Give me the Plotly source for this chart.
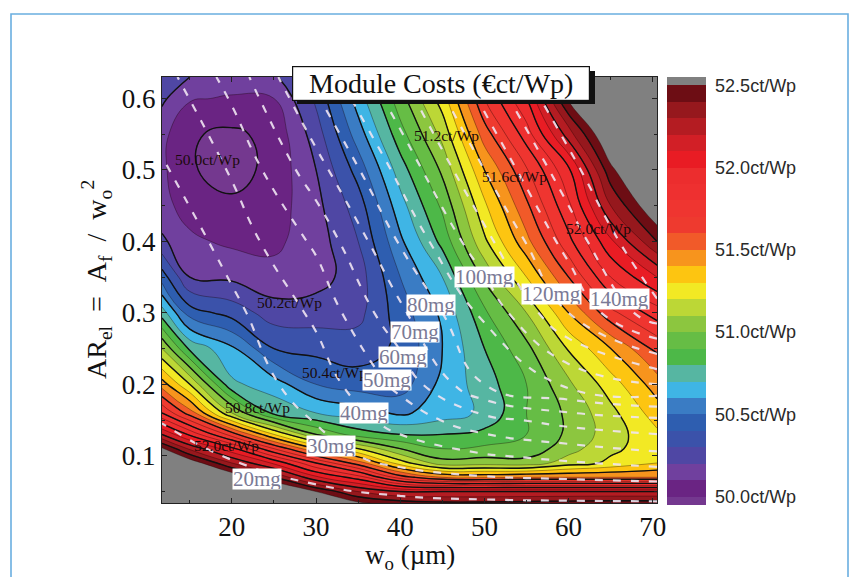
import plotly.graph_objects as go

# ---------------- data ----------------
# finger width w_o (um) and aspect ratio AR_el grid
w_um = [11.7, 15, 20, 25, 30, 35, 40, 45, 50, 55, 60, 65, 70.5]
ar_el = [0.034, 0.05, 0.07, 0.09, 0.11, 0.13, 0.16, 0.2, 0.25, 0.3, 0.35,
         0.4, 0.45, 0.5, 0.55, 0.6, 0.63]

# module cost (ct/Wp); one list per w_o column, bottom (low AR) to top
cost_w11_7 = [53.6, 53.3, 53.0, 52.75, 52.52, 52.2, 51.8, 51.45, 51.1, 50.75, 50.45, 50.22, 50.13, 50.12, 50.13, 50.22, 50.3]
cost_w15 = [53.3, 53.0, 52.8, 52.58, 52.28, 51.98, 51.55, 51.2, 50.78, 50.45, 50.2, 50.12, 50.06, 50.01, 50.01, 50.11, 50.2]
cost_w20 = [53.1, 52.9, 52.6, 52.3, 52.03, 51.65, 51.1, 50.72, 50.62, 50.36, 50.18, 50.08, 50.02, 49.96, 49.98, 50.09, 50.15]
cost_w25 = [52.95, 52.7, 52.4, 52.08, 51.7, 51.3, 50.77, 50.65, 50.4, 50.25, 50.13, 50.08, 50.05, 50.03, 50.03, 50.1, 50.18]
cost_w30 = [52.72, 52.5, 52.12, 51.8, 51.4, 51.0, 50.7, 50.5, 50.37, 50.25, 50.16, 50.15, 50.17, 50.2, 50.25, 50.32, 50.38]
cost_w35 = [52.52, 52.3, 51.95, 51.55, 51.2, 50.85, 50.65, 50.45, 50.35, 50.27, 50.25, 50.3, 50.35, 50.44, 50.55, 50.65, 50.72]
cost_w40 = [52.45, 52.2, 51.65, 51.25, 51.0, 50.8, 50.58, 50.45, 50.42, 50.45, 50.5, 50.58, 50.66, 50.75, 50.86, 50.96, 51.04]
cost_w45 = [52.42, 52.2, 51.5, 51.04, 50.9, 50.8, 50.65, 50.63, 50.6, 50.62, 50.7, 50.83, 50.92, 51.02, 51.13, 51.25, 51.33]
cost_w50 = [52.42, 52.2, 51.48, 51.05, 50.92, 50.83, 50.72, 50.75, 50.8, 50.88, 51.02, 51.18, 51.28, 51.4, 51.55, 51.7, 51.77]
cost_w55 = [52.43, 52.2, 51.5, 51.04, 50.93, 50.9, 50.9, 50.9, 50.97, 51.1, 51.3, 51.47, 51.58, 51.69, 51.85, 52.0, 52.1]
cost_w60 = [52.44, 52.2, 51.5, 51.15, 51.06, 51.02, 51.02, 51.08, 51.21, 51.4, 51.6, 51.77, 51.88, 51.98, 52.25, 52.52, 52.62]
cost_w65 = [52.45, 52.2, 51.5, 51.22, 51.18, 51.15, 51.17, 51.25, 51.4, 51.67, 51.9, 52.08, 52.3, 52.47, 52.65, 52.82, 52.95]
cost_w70_5 = [52.45, 52.2, 51.5, 51.3, 51.25, 51.28, 51.35, 51.45, 51.62, 51.85, 52.1, 52.4, 52.62, 52.78, 52.95, 53.1, 53.25]

cost_columns = [cost_w11_7, cost_w15, cost_w20, cost_w25, cost_w30, cost_w35, cost_w40,
                cost_w45, cost_w50, cost_w55, cost_w60, cost_w65, cost_w70_5]
cost_z = [[col[j] for col in cost_columns] for j in range(len(ar_el))]

# silver consumption (mg) on a coarser grid, one list per AR row
w_mg = [11.7, 20, 30, 40, 50, 60, 70.5]
ar_mg = [0.034, 0.06, 0.1, 0.15, 0.2, 0.3, 0.4, 0.5, 0.63]
mg_ar0034 = [10, 13, 15.5, 17.5, 18.5, 19, 19.2]
mg_ar006 = [13, 17, 20, 24, 26.3, 27, 28]
mg_ar010 = [17, 20.5, 26, 34, 39, 43, 47.5]
mg_ar015 = [20.3, 22.5, 30.5, 44, 56.7, 64, 68]
mg_ar020 = [21.6, 24.4, 34.4, 52.7, 80, 92, 100]
mg_ar030 = [24, 27.5, 42, 68, 92, 120, 147]
mg_ar040 = [22, 34, 52, 81, 107, 134, 162]
mg_ar050 = [29, 41, 66, 93, 120, 146, 175]
mg_ar063 = [36, 54, 83, 109, 136, 163, 191]
mg_z = [mg_ar0034, mg_ar006, mg_ar010, mg_ar015, mg_ar020, mg_ar030, mg_ar040, mg_ar050, mg_ar063]

# colour of each cost band: <50.0, 50.0-50.1, ..., 52.4-52.5, >52.5
band_colors = ['#74388f', '#6a2483', '#70409e', '#4f47a4', '#3b52aa', '#2e5eb0',
               '#3a7cc4', '#3fb5e5', '#56b6a2', '#4db848', '#66bd45', '#8cc63f',
               '#bcd736', '#f2e924', '#fdc511', '#f7941d', '#f15a29', '#ee3a2f',
               '#ef3530', '#ee3030', '#ec2d2e', '#e91c24', '#d21f26', '#b41c22',
               '#96181d', '#6d0d14', '#808080']

cbar_ticks = [50.0, 50.5, 51.0, 51.5, 52.0, 52.5]
cbar_text = ['50.0ct/Wp', '50.5ct/Wp', '51.0ct/Wp', '51.5ct/Wp', '52.0ct/Wp', '52.5ct/Wp']

cost_label_text = ['50.0ct/Wp', '50.2ct/Wp', '50.4ct/Wp', '50.8ct/Wp', '52.0ct/Wp',
                   '51.2ct/Wp', '51.6ct/Wp', '52.0ct/Wp']
cost_label_w = [17.1, 26.9, 32.2, 23.0, 19.4, 45.5, 53.6, 63.5]
cost_label_ar = [0.515, 0.315, 0.217, 0.167, 0.115, 0.548, 0.491, 0.418]

mg_label_text = ['20mg', '30mg', '40mg', '50mg', '60mg', '70mg', '80mg',
                 '100mg', '120mg', '140mg']
mg_label_w = [23.0, 31.8, 35.7, 38.4, 40.3, 41.7, 43.7, 50.0, 58.0, 66.0]
mg_label_ar = [0.068, 0.114, 0.16, 0.206, 0.238, 0.273, 0.311, 0.35, 0.326, 0.319]

# ---------------- figure ----------------
SERIF = 'Liberation Serif, Times New Roman, serif'
SANS = 'Liberation Sans, Arial, sans-serif'

n = len(band_colors)
cscale = []
for i, c in enumerate(band_colors):
    lo = max(0.0, (i - 0.5) / (n - 1))
    hi = min(1.0, (i + 0.5) / (n - 1))
    cscale.append([lo, c])
    cscale.append([hi, c])

SM = 1.3
fig = go.Figure()
fig.add_trace(go.Contour(
    x=w_um, y=ar_el, z=cost_z,
    colorscale=cscale,
    contours=dict(start=50.0, end=52.5, size=0.1, coloring='fill', showlines=False),
    line=dict(width=0, smoothing=SM),
    colorbar=dict(
        x=(667 - 162) / 495, xanchor='left', xpad=0,
        y=1.0, yanchor='top', ypad=0,
        len=428, lenmode='pixels', thickness=39,
        outlinewidth=0,
        tickvals=cbar_ticks, ticktext=cbar_text,
        ticks='outside', ticklen=6, tickcolor='rgba(0,0,0,0)',
        tickfont=dict(family=SANS, size=18, color='#2a2a2a'),
    ),
    hoverinfo='skip',
))
fig.add_trace(go.Contour(
    x=w_um, y=ar_el, z=cost_z, showscale=False,
    contours=dict(start=50.0, end=52.5, size=0.1, coloring='none'),
    line=dict(width=0.7, color='rgba(20,0,0,0.5)', smoothing=SM),
    hoverinfo='skip',
))
fig.add_trace(go.Contour(
    x=w_um, y=ar_el, z=cost_z, showscale=False,
    contours=dict(start=50.0, end=52.4, size=0.2, coloring='none'),
    line=dict(width=1.4, color='#111111', smoothing=SM),
    hoverinfo='skip',
))
fig.add_trace(go.Contour(
    x=w_mg, y=ar_mg, z=mg_z, showscale=False,
    contours=dict(start=20, end=150, size=10, coloring='none'),
    line=dict(width=2.2, color='rgba(240,228,242,0.9)', dash='8px,10px', smoothing=1.3),
    hoverinfo='skip',
))

annotations = []
for t, xx, yy in zip(cost_label_text, cost_label_w, cost_label_ar):
    annotations.append(dict(x=xx, y=yy, xref='x', yref='y', text=t, showarrow=False,
                            xanchor='center', yanchor='middle',
                            font=dict(family=SERIF, size=15.5, color='#1a0a0a')))
for t, xx, yy in zip(mg_label_text, mg_label_w, mg_label_ar):
    annotations.append(dict(x=xx, y=yy, xref='x', yref='y', text=t, showarrow=False,
                            xanchor='center', yanchor='middle',
                            bgcolor='white', borderpad=0, height=20,
                            font=dict(family=SERIF, size=21, color='#7a7a96')))
# title box
annotations.append(dict(x=(441 - 162) / 495, y=(503 - 83.5) / 426, xref='paper', yref='paper',
                        xanchor='center', yanchor='middle',
                        text='Module Costs (€ct/Wp)', showarrow=False,
                        width=296, height=33, bgcolor='white', bordercolor='#111111',
                        borderwidth=1.2, borderpad=0,
                        font=dict(family=SERIF, size=28, color='#111111')))
# axis titles
annotations.append(dict(x=(410 - 162) / 495, y=(503 - 557) / 426, xref='paper', yref='paper',
                        xanchor='center', yanchor='middle',
                        text='w<sub>o</sub> (µm)', showarrow=False,
                        font=dict(family=SERIF, size=27, color='#111111')))
annotations.append(dict(x=(96 - 162) / 495, y=(503 - 280) / 426, xref='paper', yref='paper',
                        xanchor='center', yanchor='middle',
                        text='AR<sub>el</sub>&nbsp;&nbsp;=&nbsp;&nbsp;A<sub>f</sub>&nbsp;&nbsp;/&nbsp;&nbsp;w<sub>o</sub><sup>2</sup>',
                        showarrow=False, textangle=-90,
                        font=dict(family=SERIF, size=28, color='#111111')))

shapes = [
    # title shadow
    dict(type='rect', xref='paper', yref='paper',
         x0=(297 - 162) / 495, x1=(595 - 162) / 495,
         y0=(503 - 104) / 426, y1=(503 - 71) / 426,
         fillcolor='#111111', line=dict(width=0), layer='above'),
    # outer light-blue frame
    dict(type='rect', xref='paper', yref='paper',
         x0=(11 - 162) / 495, x1=(848 - 162) / 495,
         y0=(503 - 620) / 426, y1=(503 - 14) / 426,
         fillcolor='rgba(0,0,0,0)', line=dict(color='#6aaee0', width=1.6), layer='below'),
]

fig.update_layout(
    width=855, height=577,
    margin=dict(l=162, r=198, t=77, b=74),
    paper_bgcolor='white', plot_bgcolor='white',
    showlegend=False,
    annotations=annotations,
    shapes=shapes,
    xaxis=dict(range=[11.7, 70.5], tickvals=[20, 30, 40, 50, 60, 70],
               ticks='inside', ticklen=5, tickcolor='#222', mirror='allticks',
               showline=True, linecolor='#222', linewidth=1, showgrid=False, zeroline=False,
               minor=dict(tickvals=[15, 25, 35, 45, 55, 65], ticks='inside', ticklen=3, tickcolor='#222'),
               tickfont=dict(family=SERIF, size=27, color='#111111')),
    yaxis=dict(range=[0.034, 0.63], tickvals=[0.1, 0.2, 0.3, 0.4, 0.5, 0.6], tickformat='.1f',
               ticks='inside', ticklen=5, tickcolor='#222', mirror='allticks',
               showline=True, linecolor='#222', linewidth=1, showgrid=False, zeroline=False,
               minor=dict(tickvals=[0.05, 0.15, 0.25, 0.35, 0.45, 0.55], ticks='inside', ticklen=3, tickcolor='#222'),
               tickfont=dict(family=SERIF, size=27, color='#111111')),
)

fig.write_html('out.html')
